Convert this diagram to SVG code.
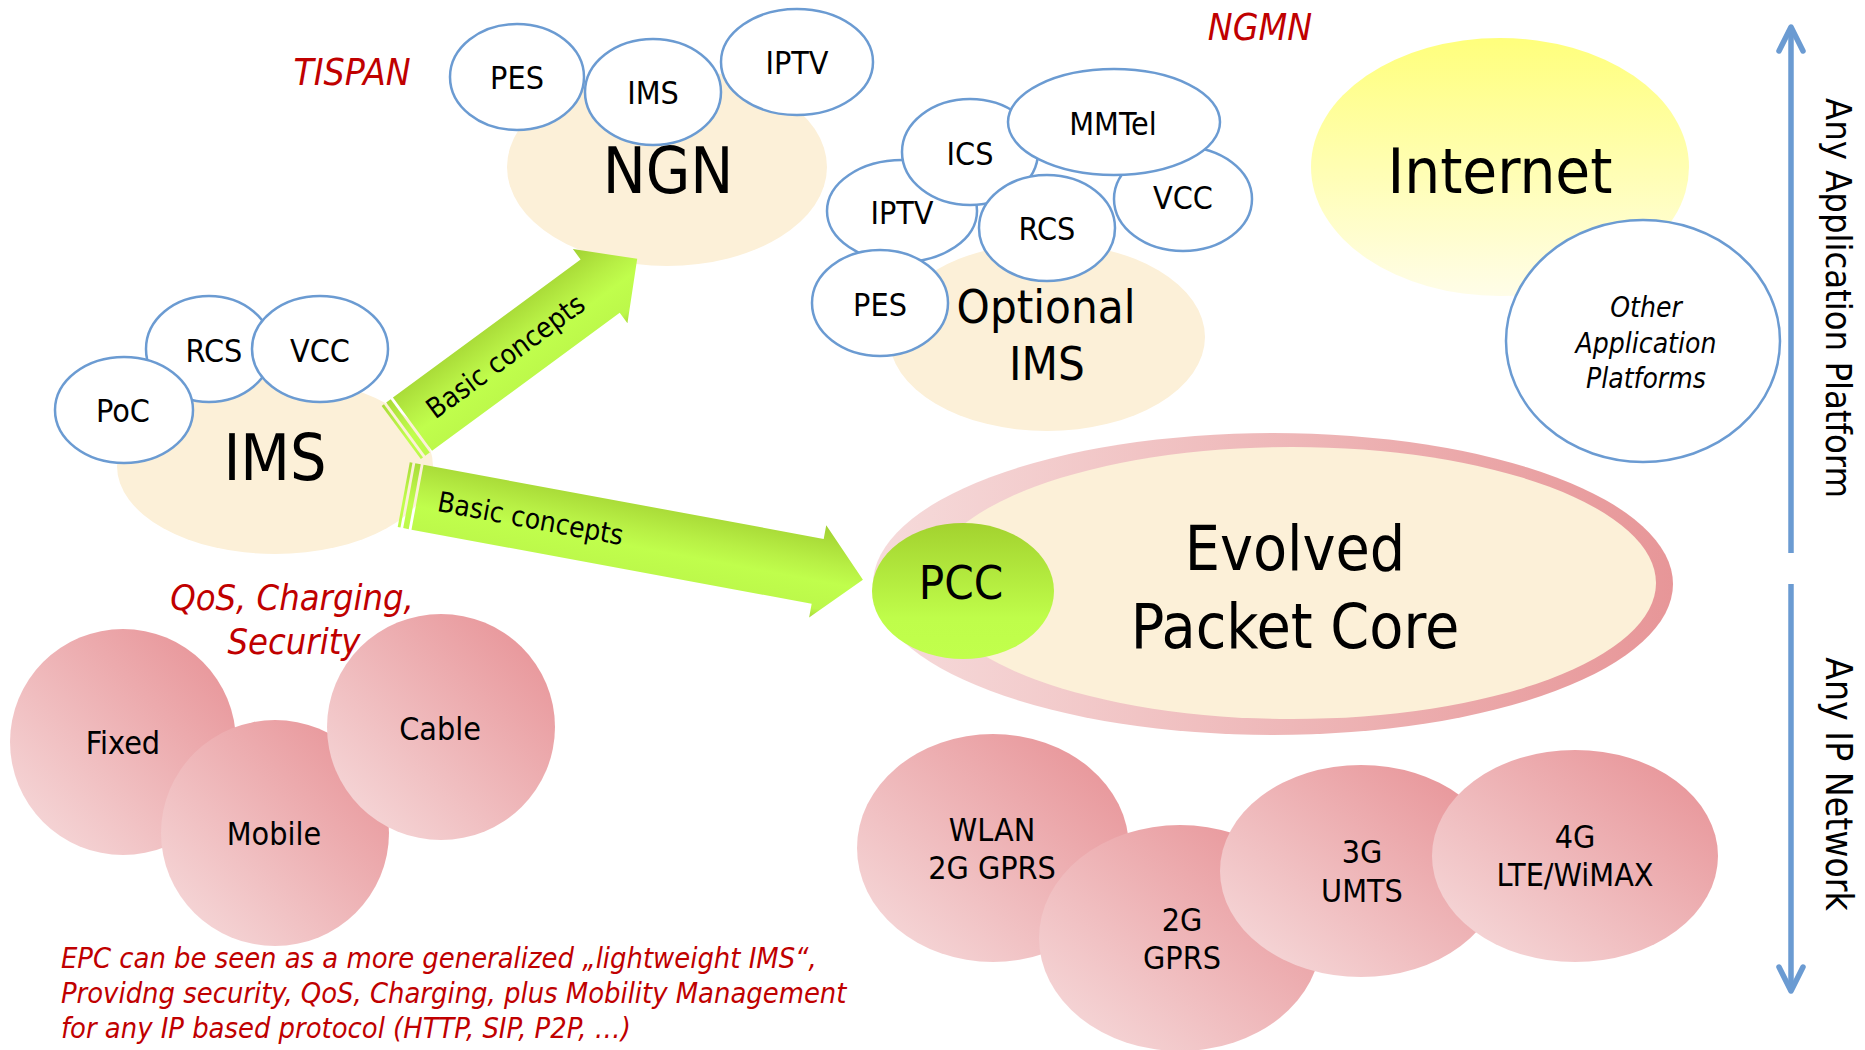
<svg xmlns="http://www.w3.org/2000/svg" width="1865" height="1050" viewBox="0 0 1865 1050">
  <defs>
    <style>
      text { font-family: 'DejaVu Sans Condensed', 'DejaVu Sans', sans-serif; font-stretch: condensed; fill: #000; }
      .c { text-anchor: middle; }
      .big { font-size: 64px; }
      .mid { font-size: 47px; }
      .sm { font-size: 32px; }
      .note { fill: #c00000; font-style: italic; }
      .svc { fill: #ffffff; stroke: #6b9bd2; stroke-width: 2.5; }
      .beige { fill: #fcf0d8; }
      .net { fill: url(#pinkGrad); }
      .axis { fill: none; stroke: #6b9bd2; stroke-width: 5.5; stroke-linecap: butt; }
    </style>
    <linearGradient id="pinkGrad" x1="0.9" y1="0.1" x2="0.1" y2="0.9">
      <stop offset="0" stop-color="#e8969a"/>
      <stop offset="1" stop-color="#f5d6d7"/>
    </linearGradient>
    <linearGradient id="ringGrad" x1="0" y1="0" x2="1" y2="0">
      <stop offset="0" stop-color="#f6dbdb"/>
      <stop offset="1" stop-color="#e79698"/>
    </linearGradient>
    <linearGradient id="yellowGrad" x1="0" y1="0" x2="0" y2="1">
      <stop offset="0" stop-color="#ffff7c"/>
      <stop offset="1" stop-color="#fffde8"/>
    </linearGradient>
    <linearGradient id="pccGrad" x1="0" y1="0" x2="0" y2="1">
      <stop offset="0" stop-color="#a3d22f"/>
      <stop offset="0.7" stop-color="#bffd4a"/>
      <stop offset="1" stop-color="#c1ff4c"/>
    </linearGradient>
    <linearGradient id="arrowGrad" gradientUnits="userSpaceOnUse" x1="0" y1="-46" x2="0" y2="46">
      <stop offset="0" stop-color="#a2d132"/>
      <stop offset="0.4" stop-color="#b8f045"/>
      <stop offset="0.6" stop-color="#c0fe4c"/>
      <stop offset="0.9" stop-color="#bcf84a"/>
      <stop offset="1" stop-color="#aadb3a"/>
    </linearGradient>
    <marker id="openHead" viewBox="-30 -16 34 32" markerWidth="34" markerHeight="32" refX="0" refY="0" orient="auto" markerUnits="userSpaceOnUse">
      <path d="M -24 -12 L 0 0 L -24 12" fill="none" stroke="#6b9bd2" stroke-width="5.5" stroke-linecap="round" stroke-linejoin="round"/>
    </marker>
  </defs>

  <rect width="1865" height="1050" fill="#ffffff"/>

  <!-- NGN cluster -->
  <g id="ngn">
    <ellipse class="beige" cx="667" cy="167" rx="160" ry="99"/>
    <text class="c big" x="668" y="193">NGN</text>
  </g>
  <g id="ngn-pes"><ellipse class="svc" cx="517" cy="77" rx="67" ry="53"/><text class="c sm" x="517" y="89">PES</text></g>
  <g id="ngn-ims"><ellipse class="svc" cx="653" cy="92" rx="68" ry="53"/><text class="c sm" x="653" y="104">IMS</text></g>
  <g id="ngn-iptv"><ellipse class="svc" cx="797" cy="62" rx="76" ry="53"/><text class="c sm" x="797" y="74">IPTV</text></g>

  <!-- Optional IMS cluster -->
  <g id="optional-ims">
    <ellipse class="beige" cx="1047" cy="337" rx="158" ry="94"/>
    <text class="c mid" x="1046" y="323">Optional</text>
    <text class="c mid" x="1047" y="380">IMS</text>
  </g>
  <g id="opt-iptv"><ellipse class="svc" cx="902" cy="211" rx="75" ry="51"/><text class="c sm" x="902" y="224">IPTV</text></g>
  <g id="opt-pes"><ellipse class="svc" cx="880" cy="303" rx="68" ry="53"/><text class="c sm" x="880" y="316">PES</text></g>
  <g id="opt-vcc"><ellipse class="svc" cx="1183" cy="199" rx="69" ry="52"/><text class="c sm" x="1183" y="209">VCC</text></g>
  <g id="opt-ics"><ellipse class="svc" cx="970" cy="152" rx="68" ry="53"/><text class="c sm" x="970" y="165">ICS</text></g>
  <g id="opt-mmtel"><ellipse class="svc" cx="1114" cy="122" rx="106" ry="53"/><text class="c sm" x="1113" y="135">MMTel</text></g>
  <g id="opt-rcs"><ellipse class="svc" cx="1047" cy="228" rx="68" ry="53"/><text class="c sm" x="1047" y="240">RCS</text></g>

  <!-- IMS cluster -->
  <g id="ims">
    <ellipse class="beige" cx="275" cy="466" rx="158" ry="88"/>
    <text class="c big" x="275" y="480">IMS</text>
  </g>
  <g id="ims-rcs"><ellipse class="svc" cx="209" cy="349" rx="63" ry="53"/><text class="c sm" x="214" y="362">RCS</text></g>
  <g id="ims-vcc"><ellipse class="svc" cx="320" cy="349" rx="68" ry="53"/><text class="c sm" x="320" y="362">VCC</text></g>
  <g id="ims-poc"><ellipse class="svc" cx="124" cy="410" rx="69" ry="53"/><text class="c sm" x="123" y="422">PoC</text></g>

  <!-- Internet and other platforms -->
  <g id="internet">
    <ellipse cx="1500" cy="167" rx="189" ry="129" fill="url(#yellowGrad)"/>
    <text class="c" x="1500" y="193" font-size="63">Internet</text>
  </g>
  <g id="other-platforms">
    <ellipse class="svc" cx="1643" cy="341" rx="137" ry="121"/>
    <text class="c" font-size="28" font-style="italic" x="1646" y="317">Other</text>
    <text class="c" font-size="28" font-style="italic" x="1646" y="353">Application</text>
    <text class="c" font-size="28" font-style="italic" x="1646" y="388">Platforms</text>
  </g>

  <!-- Evolved Packet Core with PCC -->
  <g id="epc">
    <ellipse cx="1273" cy="584" rx="400" ry="151" fill="url(#ringGrad)"/>
    <ellipse class="beige" cx="1292" cy="583" rx="364" ry="136"/>
    <text class="c" font-size="62" x="1295" y="570">Evolved</text>
    <text class="c" font-size="62" x="1295" y="648">Packet Core</text>
  </g>
  <g id="pcc">
    <ellipse cx="963" cy="591" rx="91" ry="68" fill="url(#pccGrad)"/>
    <text class="c" font-size="47" x="961" y="599">PCC</text>
  </g>

  <!-- Block arrows between clusters -->
  <g id="connectors">
    <g id="arrow-ngn" transform="translate(412.5,424.2) rotate(-36.35)">
      <rect x="-14" y="-33" width="2.8" height="66" fill="url(#arrowGrad)"/>
      <rect x="-8.4" y="-33" width="5.6" height="66" fill="url(#arrowGrad)"/>
      <polygon points="0,-33 233,-33 233,-46 279,0 233,46 233,33 0,33" fill="url(#arrowGrad)"/>
      <text x="21" y="10" font-size="28">Basic concepts</text>
    </g>
    <g id="arrow-epc" transform="translate(417.5,497.2) rotate(10.5)">
      <rect x="-14" y="-33" width="2.8" height="66" fill="url(#arrowGrad)"/>
      <rect x="-8.4" y="-33" width="5.6" height="66" fill="url(#arrowGrad)"/>
      <polygon points="0,-33 407,-33 407,-47 453,0 407,47 407,33 0,33" fill="url(#arrowGrad)"/>
      <text x="21" y="10" font-size="28">Basic concepts</text>
    </g>
  </g>

  <!-- Access networks, left -->
  <g id="fixed"><ellipse class="net" cx="123" cy="742" rx="113" ry="113"/><text class="c sm" x="123" y="754">Fixed</text></g>
  <g id="mobile"><ellipse class="net" cx="275" cy="833" rx="114" ry="113"/><text class="c sm" x="274" y="845">Mobile</text></g>
  <g id="cable"><ellipse class="net" cx="441" cy="727" rx="114" ry="113"/><text class="c sm" x="440" y="740">Cable</text></g>

  <!-- Access networks, right -->
  <g id="wlan"><ellipse class="net" cx="993" cy="848" rx="136" ry="114"/><text class="c sm" x="992" y="841">WLAN</text><text class="c sm" x="992" y="879">2G GPRS</text></g>
  <g id="net-2g"><ellipse class="net" cx="1180" cy="938" rx="141" ry="113"/><text class="c sm" x="1182" y="931">2G</text><text class="c sm" x="1182" y="969">GPRS</text></g>
  <g id="net-3g"><ellipse class="net" cx="1361" cy="871" rx="141" ry="106"/><text class="c sm" x="1362" y="863">3G</text><text class="c sm" x="1362" y="902">UMTS</text></g>
  <g id="net-4g"><ellipse class="net" cx="1575" cy="856" rx="143" ry="106"/><text class="c sm" x="1575" y="848">4G</text><text class="c sm" x="1575" y="886">LTE/WiMAX</text></g>

  <!-- Red annotations -->
  <text class="note c" x="352" y="85" font-size="37">TISPAN</text>
  <text class="note c" x="1260" y="40" font-size="37">NGMN</text>
  <text class="note c" x="292" y="610" font-size="36">QoS, Charging,</text>
  <text class="note c" x="294" y="654" font-size="36">Security</text>
  <g class="note" font-size="28.8">
    <text class="note" x="61" y="968">EPC can be seen as a more generalized „lightweight IMS“,</text>
    <text class="note" x="61" y="1003">Providng security, QoS, Charging, plus Mobility Management</text>
    <text class="note" x="61" y="1038">for any IP based protocol (HTTP, SIP, P2P, …)</text>
  </g>

  <!-- Vertical axis -->
  <g id="axis">
    <line class="axis" x1="1791" y1="553" x2="1791" y2="27" marker-end="url(#openHead)"/>
    <line class="axis" x1="1791" y1="584" x2="1791" y2="991" marker-end="url(#openHead)"/>
    <text class="c" font-size="36" transform="translate(1826,298) rotate(90)">Any Application Platform</text>
    <text class="c" font-size="37" transform="translate(1826,784) rotate(90)">Any IP Network</text>
  </g>
</svg>
